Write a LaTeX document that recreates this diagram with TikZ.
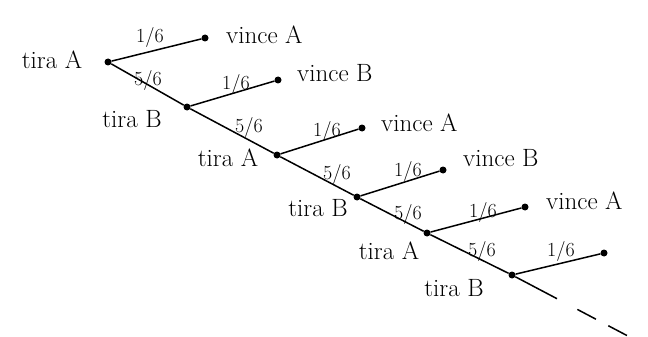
\documentclass[tikz,border=0pt]{standalone}
\usepackage{fontspec}
\begin{document}
\begin{tikzpicture}[x=1pt,y=-1pt,
  dot/.style={circle,fill=black,inner sep=0pt,minimum size=7pt},
  lbl/.style={font=\fontsize{25}{27}\selectfont,inner sep=1pt},
  prob/.style={font=\fontsize{20}{22}\selectfont,inner sep=1pt},
  br/.style={line width=1.5pt}]
\useasboundingbox (0,0) rectangle (648,337);
% tree nodes
\node[dot] (t1) at (108,62) {};
\node[dot] (v1) at (205,38) {};
\node[dot] (t2) at (187,107) {};
\node[dot] (v2) at (278,80) {};
\node[dot] (t3) at (277,155) {};
\node[dot] (v3) at (362,128) {};
\node[dot] (t4) at (357,197) {};
\node[dot] (v4) at (443,170) {};
\node[dot] (t5) at (427,233) {};
\node[dot] (v5) at (525,207) {};
\node[dot] (t6) at (512,275) {};
\node[dot] (v6) at (604,253) {};
\coordinate (s) at (557,298.7);
\coordinate (e) at (640,342.4);
% branches
\draw[br] (t1) -- (v1);
\draw[br] (t1) -- (t2);
\draw[br] (t2) -- (v2);
\draw[br] (t2) -- (t3);
\draw[br] (t3) -- (v3);
\draw[br] (t3) -- (t4);
\draw[br] (t4) -- (v4);
\draw[br] (t4) -- (t5);
\draw[br] (t5) -- (v5);
\draw[br] (t5) -- (t6);
\draw[br] (t6) -- (v6);
\draw[br] (t6) -- (s);
\draw[br,dash pattern=on 0pt off 23pt on 21pt off 14pt on 21pt off 20pt] (s) -- (e);
% labels
\node[lbl] (lt1) at (52,60) {tira A};
\node[lbl] (lt2) at (132,119) {tira B};
\node[lbl] (lt3) at (228,158) {tira A};
\node[lbl] (lt4) at (318,208) {tira B};
\node[lbl] (lt5) at (389,251) {tira A};
\node[lbl] (lt6) at (454,288) {tira B};
\node[lbl,anchor=west] (lv1) at (225,35) {vince A};
\node[lbl,anchor=west] (lv2) at (296,73) {vince B};
\node[lbl,anchor=west] (lv3) at (380,123) {vince A};
\node[lbl,anchor=west] (lv4) at (462,158) {vince B};
\node[lbl,anchor=west] (lv5) at (545,201) {vince A};
% probabilities
\node[prob] (p1) at (150,38) {1/6};
\node[prob] (q1) at (148,80) {5/6};
\node[prob] (p2) at (236,84) {1/6};
\node[prob] (q2) at (249,127) {5/6};
\node[prob] (p3) at (327,131) {1/6};
\node[prob] (q3) at (337,174) {5/6};
\node[prob] (p4) at (408,171) {1/6};
\node[prob] (q4) at (408,214) {5/6};
\node[prob] (p5) at (483,212) {1/6};
\node[prob] (q5) at (482,251) {5/6};
\node[prob] (p6) at (561,251) {1/6};
\end{tikzpicture}
\end{document}
